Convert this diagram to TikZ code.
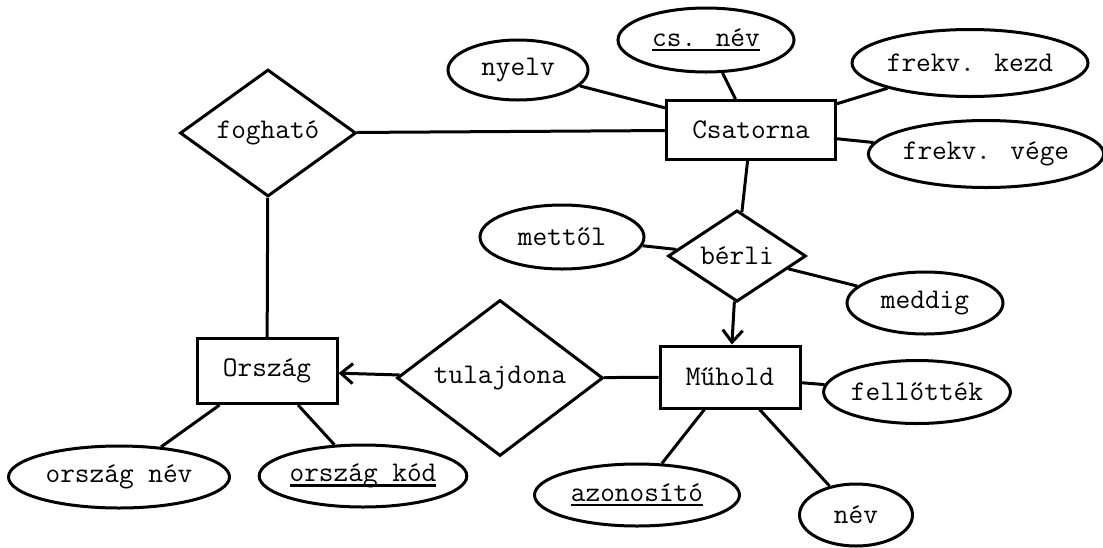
\documentclass[tikz,border=0pt]{standalone}
\usepackage{fontspec}
\usetikzlibrary{shapes.geometric,arrows.meta}
% key attribute: thick rule under the text
\newcommand\keyattr[1]{\setbox0\hbox{#1}\rlap{\rule[-5pt]{\wd0}{2.8pt}}\box0}
\tikzset{
  base/.style={draw, line width=3pt, inner sep=0pt, font=\ttfamily\fontsize{28.5}{32}\selectfont},
  entity/.style={base, rectangle},
  attr/.style={base, ellipse},
  rel/.style={base, diamond},
  link/.style={line width=3pt},
  isa/.style={link, -{Straight Barb[length=12pt,width=20pt,line width=3pt]}},
}
\begin{document}
\begin{tikzpicture}[x=1pt,y=-1pt]
\useasboundingbox (0,0) rectangle (1103,547);
% entities
\node[entity, minimum width=169pt, minimum height=59pt] (csat) at (751,130) {Csatorna};
\node[entity, minimum width=140pt, minimum height=65pt] (orszag) at (267,371) {Ország};
\node[entity, minimum width=140pt, minimum height=62pt] (muhold) at (730,377) {Műhold};
% relationships
\node[rel, minimum width=176pt, minimum height=102pt] (fog) at (268,133) {fogható};
\node[rel, minimum width=138pt, minimum height=86pt] (berli) at (737,256) {bérli};
\node[rel, minimum width=206pt, minimum height=122pt] (tul) at (500,378) {tulajdona};
% attributes
\node[attr, minimum width=140pt, minimum height=60pt] (nyelv) at (518,70) {nyelv};
\node[attr, minimum width=176pt, minimum height=64pt] (csnev) at (706,40) {\keyattr{cs. név}};
\node[attr, minimum width=236pt, minimum height=67pt] (fkezd) at (970,63) {frekv. kezd};
\node[attr, minimum width=230pt, minimum height=67pt] (fvege) at (986,154) {frekv. vége};
\node[attr, minimum width=164pt, minimum height=64pt] (mettol) at (562,237) {mettől};
\node[attr, minimum width=156pt, minimum height=62pt] (meddig) at (925,303) {meddig};
\node[attr, minimum width=176pt, minimum height=63pt] (fell) at (917,392) {fellőtték};
\node[attr, minimum width=221pt, minimum height=62pt] (onev) at (119,477) {ország név};
\node[attr, minimum width=205pt, minimum height=62pt] (okod) at (363,476) {\keyattr{ország kód}};
\node[attr, minimum width=205pt, minimum height=62pt] (azon) at (637,495) {\keyattr{azonosító}};
\node[attr, minimum width=113pt, minimum height=62pt] (nev) at (856,515) {név};
% connectors
\draw[link] (fog) -- (csat);
\draw[link] (fog) -- (orszag);
\draw[link] (nyelv) -- (csat);
\draw[link] (csnev) -- (csat);
\draw[link] (fkezd) -- (csat);
\draw[link] (fvege) -- (csat);
\draw[link] (csat) -- (berli);
\draw[link] (mettol) -- (berli);
\draw[link] (berli) -- (meddig);
\draw[isa] (berli) -- (muhold);
\draw[isa] (tul) -- (orszag);
\draw[link] (tul) -- (muhold);
\draw[link] (muhold) -- (fell);
\draw[link] (muhold) -- (azon);
\draw[link] (muhold) -- (nev);
\draw[link] (orszag) -- (onev);
\draw[link] (orszag) -- (okod);
\end{tikzpicture}
\end{document}
